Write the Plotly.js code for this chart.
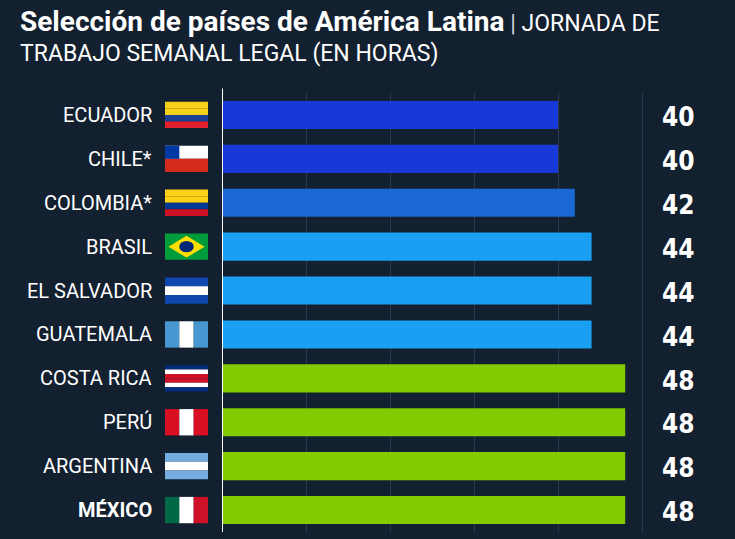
<!DOCTYPE html>
<html><head><meta charset="utf-8">
<script src="https://cdn.plot.ly/plotly-3.0.1.min.js"></script>
<style>body{margin:0;background:#13202f}</style>
</head><body><div id="chart" style="width:735px;height:539px"></div>
<script>
const countries = ["ECUADOR","CHILE*","COLOMBIA*","BRASIL","EL SALVADOR","GUATEMALA","COSTA RICA","PERÚ","ARGENTINA","MÉXICO"];
const hours = [40,40,42,44,44,44,48,48,48,48];
const barColors = ["#1838d8","#1838d8","#1a68d4","#1aa0f2","#1aa0f2","#1aa0f2","#80cc00","#80cc00","#80cc00","#80cc00"];
// flag stripes: [orientation, colors]
const flags = [
  ["h",["#f7d117","#f7d117","#1c3f94","#e3202b"]],
  ["chile"],
  ["h",["#fcd116","#fcd116","#003893","#ce1126"]],
  ["brasil"],
  ["h",["#0f47af","#ffffff","#0f47af"]],
  ["v",["#4997d0","#ffffff","#4997d0"]],
  ["h",["#002b7f","#ffffff","#ce1126","#ce1126","#ffffff","#002b7f"]],
  ["v",["#d91023","#ffffff","#d91023"]],
  ["h",["#74acdf","#ffffff","#74acdf"]],
  ["v",["#006847","#ffffff","#ce1126"]]
];

const W = 735 - 222 - 80, H = 539 - 93 - 7;
const fx0 = -57 / W, fx1 = -14 / W;
const shapes = [], annotations = [];
countries.forEach((c, i) => {
  const y0 = i - 0.3, y1 = i + 0.3;
  const f = flags[i];
  const rect = (a, b, c2, d, col) => shapes.push({type:"rect", xref:"paper", yref:"y", x0:a, x1:b, y0:c2, y1:d, fillcolor:col, line:{width:0}, layer:"above"});
  if (f[0] === "h") {
    const n = f[1].length, h = (y1 - y0) / n;
    f[1].forEach((col, k) => rect(fx0, fx1, y0 + k*h, y0 + (k+1)*h, col));
  } else if (f[0] === "v") {
    const n = f[1].length, w = (fx1 - fx0) / n;
    f[1].forEach((col, k) => rect(fx0 + k*w, fx0 + (k+1)*w, y0, y1, col));
  } else if (f[0] === "chile") {
    rect(fx0, fx1, y0, i, "#ffffff");
    rect(fx0, fx1, i, y1, "#d52b1e");
    rect(fx0, fx0 + (fx1-fx0)/3, y0, i, "#0039a6");
  } else {
    rect(fx0, fx1, y0, y1, "#009c3b");
    const mx = (fx0+fx1)/2, dx = (fx1-fx0)*0.42;
    shapes.push({type:"path", xref:"paper", yref:"y", layer:"above", line:{width:0}, fillcolor:"#ffdf00",
      path:`M ${mx-dx} ${i} L ${mx} ${y0+0.05} L ${mx+dx} ${i} L ${mx} ${y1-0.05} Z`});
    shapes.push({type:"circle", xref:"paper", yref:"y", layer:"above", line:{width:0}, fillcolor:"#002776",
      x0:mx-dx*0.4, x1:mx+dx*0.4, y0:i-0.13, y1:i+0.13});
  }
  annotations.push({xref:"paper", yref:"y", x:-68/W, y:i, xanchor:"right", showarrow:false,
    text: c === "MÉXICO" ? "<b>"+c+"</b>" : c, font:{family:"Roboto", size:20, color:"#ffffff"}});
  annotations.push({xref:"paper", yref:"y", x:1 + 42/W, y:i + 0.05, xanchor:"right", showarrow:false,
    text:"<b>"+hours[i]+"</b>", font:{family:"DejaVu Sans Condensed, Roboto", size:26, color:"#ffffff"}});
});
shapes.push({type:"line", xref:"x", yref:"paper", x0:0, x1:0, y0:0, y1:1.01, line:{color:"#ffffff", width:2}});
annotations.push({xref:"paper", yref:"paper", x:-204/W, y:1 + 90/H, xanchor:"left", yanchor:"top", align:"left", showarrow:false,
  text:"<span style='font-size:28px'><b>Selección de países de América Latina</b></span> <span style='color:#c9d0d8'>|</span> JORNADA DE<br>TRABAJO SEMANAL LEGAL (EN HORAS)",
  font:{family:"Roboto", size:23, color:"#ffffff"}});

Plotly.newPlot("chart", [{
  type:"bar", orientation:"h", x:hours, y:countries.map((c,i)=>i),
  marker:{color:barColors}, width:0.64, hoverinfo:"none"
}], {
  width:735, height:539,
  paper_bgcolor:"#13202f", plot_bgcolor:"#13202f",
  margin:{l:222, r:80, t:93, b:7},
  showlegend:false,
  xaxis:{range:[0, W/8.4], dtick:10, showticklabels:false, gridcolor:"#2a3a4c", zeroline:false},
  yaxis:{range:[9.5,-0.5], showticklabels:false, showgrid:false, zeroline:false},
  shapes, annotations
}, {displayModeBar:false});
</script></body></html>
